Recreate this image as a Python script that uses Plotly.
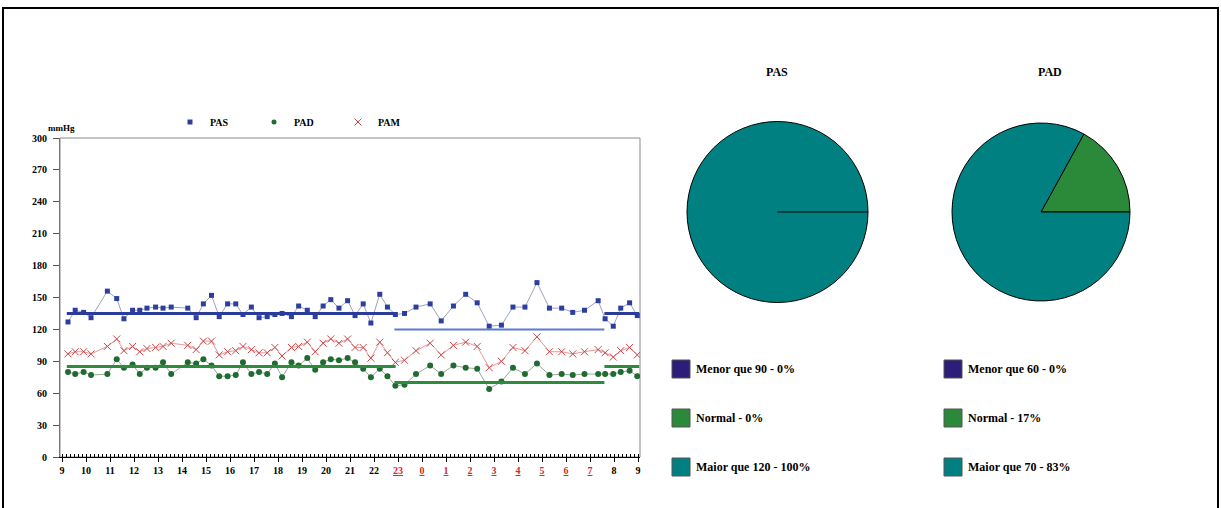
import plotly.graph_objects as go

# ---------------- data ----------------
times = [9.25, 9.55, 9.9, 10.21, 10.89, 11.28, 11.58, 11.94, 12.24, 12.54, 12.9, 13.21, 13.55,
         14.24, 14.59, 14.89, 15.23, 15.55, 15.9, 16.24, 16.54, 16.89, 17.21, 17.55, 17.87,
         18.17, 18.56, 18.86, 19.22, 19.55, 19.88, 20.2, 20.54, 20.9, 21.21, 21.55, 21.87,
         22.24, 22.56, 22.89, 23.27, 23.75, 24.34, 24.8, 25.31, 25.82, 26.3, 26.8, 27.31,
         27.79, 28.29, 28.79, 29.31, 29.82, 30.28, 30.77, 31.34, 31.63, 31.97, 32.28, 32.65, 32.97]

pas = [127, 138, 136, 131, 156, 149, 130, 138, 138, 140, 141, 140, 141, 140, 131, 144, 152, 132,
       144, 144, 134, 141, 131, 132, 134, 135, 132, 142, 138, 132, 142, 148, 140, 147, 133, 144,
       126, 153, 141, 134, 135, 141, 144, 128, 142, 153, 145, 123, 124, 141, 141, 164, 140, 140,
       136, 138, 147, 130, 123, 140, 145, 133]

pad = [80, 78, 80, 77, 78, 92, 84, 87, 78, 84, 84, 89, 78, 89, 88, 92, 86, 76, 76, 77, 89, 78,
       80, 78, 88, 75, 89, 86, 93, 82, 89, 92, 91, 93, 89, 83, 75, 83, 76, 67, 68, 78, 86, 78,
       86, 84, 83, 64, 71, 84, 78, 88, 77, 78, 77, 78, 78, 78, 78, 80, 81, 76]

pam = [97, 99, 99, 97, 104, 111, 100, 104, 99, 102, 103, 104, 107, 105, 101, 109, 109, 96, 99,
       100, 104, 101, 98, 98, 103, 95, 103, 104, 108, 99, 107, 111, 107, 111, 103, 103, 93, 108,
       98, 89, 91, 100, 107, 96, 105, 108, 104, 84, 90, 103, 100, 113, 99, 99, 97, 99, 101, 98,
       94, 100, 103, 96]

# reference limits (day / night) and their periods (hours, continuous from 9h)
pas_day_ref, pas_night_ref = 135, 120
pad_day_ref, pad_night_ref = 85, 70
day_periods = [(9.2, 22.9), (31.6, 33.05)]
night_period = (22.85, 31.6)

hour_ticks = list(range(9, 34))
night_hours = [23, 0, 1, 2, 3, 4, 5, 6, 7]
y_ticks = list(range(0, 301, 30))

pas_pie_labels = ["Menor que 90", "Normal", "Maior que 120"]
pas_pie_values = [0, 0, 100]
pad_pie_labels = ["Menor que 60", "Normal", "Maior que 70"]
pad_pie_values = [0, 17, 83]
slice_colors = ["#2b1d78", "#2a8a3a", "#008080"]

# ---------------- figure ----------------
W, H = 1221, 508
SERIF = "Liberation Serif"
fig = go.Figure()

def px_x(v):
    return v / W

def px_y(v):
    return 1 - v / H

# series
fig.add_trace(go.Scatter(x=times, y=pas, mode="lines+markers", showlegend=False,
                         line=dict(color="#9ea2bd", width=1),
                         marker=dict(symbol="square", size=5, color="#2c3f9e")))
fig.add_trace(go.Scatter(x=times, y=pad, mode="lines+markers", showlegend=False,
                         line=dict(color="#98a898", width=1),
                         marker=dict(symbol="circle", size=6, color="#1f6b30")))
fig.add_trace(go.Scatter(x=times, y=pam, mode="lines+markers", showlegend=False,
                         line=dict(color="#e39a9a", width=1),
                         marker=dict(symbol="x-thin", size=7, line=dict(color="#d04545", width=1))))

# reference lines
for (a, b) in day_periods:
    fig.add_trace(go.Scatter(x=[a, b], y=[pas_day_ref, pas_day_ref], mode="lines", showlegend=False,
                             line=dict(color="#2a3c9a", width=3), hoverinfo="skip"))
    fig.add_trace(go.Scatter(x=[a, b], y=[pad_day_ref, pad_day_ref], mode="lines", showlegend=False,
                             line=dict(color="#2e8b3e", width=3), hoverinfo="skip"))
fig.add_trace(go.Scatter(x=list(night_period), y=[pas_night_ref] * 2, mode="lines", showlegend=False,
                         line=dict(color="#5a7bd4", width=2), hoverinfo="skip"))
fig.add_trace(go.Scatter(x=list(night_period), y=[pad_night_ref] * 2, mode="lines", showlegend=False,
                         line=dict(color="#2e8b3e", width=3), hoverinfo="skip"))

# legend-only entries
fig.add_trace(go.Scatter(x=[None], y=[None], mode="markers", name="PAS",
                         marker=dict(symbol="square", size=5, color="#2c3f9e")))
fig.add_trace(go.Scatter(x=[None], y=[None], mode="markers", name="PAD",
                         marker=dict(symbol="circle", size=5, color="#1f6b30")))
fig.add_trace(go.Scatter(x=[None], y=[None], mode="markers", name="PAM",
                         marker=dict(symbol="x-thin", size=7, line=dict(color="#d04545", width=1))))

# pies
PIE_Y = [px_y(303), px_y(121)]
PAS_PIE_X = [px_x(687), px_x(868)]
PAD_PIE_X = [px_x(952), px_x(1130)]

def pie(labels, values, dom_x):
    return go.Pie(labels=[f"{l} - {v}%" for l, v in zip(labels, values)], values=values,
                  marker=dict(colors=slice_colors, line=dict(color="black", width=1)),
                  sort=False, direction="counterclockwise", rotation=90,
                  textinfo="none", showlegend=False, automargin=False,
                  domain=dict(x=dom_x, y=PIE_Y))

fig.add_trace(pie(pas_pie_labels, pas_pie_values, PAS_PIE_X))
fig.add_trace(pie(pad_pie_labels, pad_pie_values, PAD_PIE_X))

# tick labels
ticktext = []
for h in hour_ticks:
    hh = h % 24
    if hh in night_hours:
        ticktext.append(f"<span style='color:#d42a2a'><u>{hh}</u></span>")
    else:
        ticktext.append(str(hh))

tickfont = dict(family=SERIF, size=10, color="black", weight="bold")

fig.update_layout(
    width=W, height=H, margin=dict(l=0, r=0, t=0, b=0, pad=0), autosize=False,
    paper_bgcolor="white", plot_bgcolor="white",
    xaxis=dict(domain=[px_x(60), px_x(640)], range=[9 - 2 / 24, 33 + 2 / 24], automargin=False,
               tickvals=hour_ticks, ticktext=ticktext, tickfont=tickfont,
               showgrid=False, zeroline=False, showline=True, linecolor="black", linewidth=1,
               ticks="outside", ticklen=4, tickcolor="black",
               minor=dict(dtick=1 / 6, tick0=9, ticks="inside", ticklen=3, tickcolor="black",
                          showgrid=False)),
    yaxis=dict(domain=[px_y(457), px_y(138)], range=[0, 300], tickvals=y_ticks, automargin=False,
               tickfont=tickfont, showgrid=False, zeroline=False, showline=True,
               linecolor="#777777", linewidth=1, ticks="outside", ticklen=6, tickcolor="#555555",
               ticklabelstandoff=4),
    legend=dict(orientation="h", x=px_x(170), y=px_y(122), xanchor="left", yanchor="middle",
                font=dict(family=SERIF, size=10, color="black", weight="bold"),
                entrywidth=39, entrywidthmode="pixels", bgcolor="rgba(0,0,0,0)"),
    hovermode=False,
)

# radial boundary line at the start angle (3 o'clock) of the full PAS pie
pas_cx = (PAS_PIE_X[0] + PAS_PIE_X[1]) / 2
pas_cy = (PIE_Y[0] + PIE_Y[1]) / 2
pas_r_paper = min((PAS_PIE_X[1] - PAS_PIE_X[0]) * W, (PIE_Y[1] - PIE_Y[0]) * H) / 2 / W

shapes = [
    # plot-area frame (gray)
    dict(type="rect", xref="x domain", yref="y domain", x0=0, x1=1, y0=0, y1=1,
         line=dict(color="#8a8a8a", width=1), layer="below"),
    # outer border
    dict(type="rect", xref="paper", yref="paper", x0=px_x(3), x1=px_x(1218), y0=-0.02, y1=px_y(8),
         line=dict(color="black", width=2)),
    dict(type="line", xref="paper", yref="paper", x0=pas_cx, x1=pas_cx + pas_r_paper,
         y0=pas_cy, y1=pas_cy, line=dict(color="black", width=1)),
]
annotations = [
    dict(text="mmHg", xref="paper", yref="paper", x=px_x(62), y=px_y(128), showarrow=False,
         xanchor="center", yanchor="middle",
         font=dict(family=SERIF, size=9, color="black", weight="bold")),
    dict(text="PAS", xref="paper", yref="paper", x=px_x(777), y=px_y(72), showarrow=False,
         xanchor="center", yanchor="middle",
         font=dict(family=SERIF, size=12, color="black", weight="bold")),
    dict(text="PAD", xref="paper", yref="paper", x=px_x(1050), y=px_y(72), showarrow=False,
         xanchor="center", yanchor="middle",
         font=dict(family=SERIF, size=12, color="black", weight="bold")),
]

row_y = [369, 418, 467]
for col_x, labels, values in [(672, pas_pie_labels, pas_pie_values), (944, pad_pie_labels, pad_pie_values)]:
    for i, (l, v) in enumerate(zip(labels, values)):
        yc = row_y[i]
        shapes.append(dict(type="rect", xref="paper", yref="paper",
                           x0=px_x(col_x), x1=px_x(col_x + 18), y0=px_y(yc + 9), y1=px_y(yc - 9),
                           fillcolor=slice_colors[i], line=dict(color="#555555", width=1)))
        annotations.append(dict(text=f"{l} - {v}%", xref="paper", yref="paper",
                                x=px_x(col_x + 22), y=px_y(yc), xanchor="left", yanchor="middle",
                                showarrow=False,
                                font=dict(family=SERIF, size=12, color="black", weight="bold")))

fig.update_layout(shapes=shapes, annotations=annotations)
fig.write_html("out.html", config={"displayModeBar": False},
               post_script="document.body.style.margin='0';document.body.style.overflow='hidden';")
